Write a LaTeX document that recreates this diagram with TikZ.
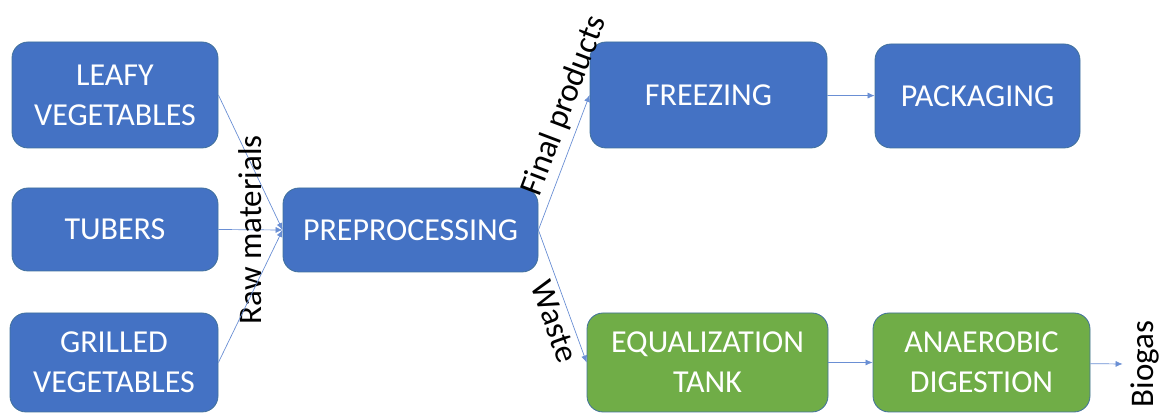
\documentclass[tikz,border=0pt]{standalone}
\usepackage{fontspec}
\setmainfont{Carlito}
\usetikzlibrary{positioning, shapes, arrows.meta}

\definecolor{boxblue}{HTML}{4472C4}
\definecolor{boxgreen}{HTML}{70AD47}
\definecolor{boxline}{HTML}{41719C}
\definecolor{flowline}{HTML}{6A8FD4}

\tikzset{
	procbox/.style={draw=boxline, line width=0.8pt, rounded corners=16pt, text=white,
		align=center, inner sep=0pt, font=\fontsize{32}{40}\selectfont},
	bluebox/.style={procbox, fill=boxblue},
	greenbox/.style={procbox, fill=boxgreen},
	flow/.style={draw=flowline, line width=0.7pt, -{Latex[length=7pt,width=6pt]}},
	flowlabel/.style={text=black, inner sep=5pt, font=\fontsize{33}{40}\selectfont}
}

\begin{document}
\begin{tikzpicture}[x=1pt, y=1pt]
	\useasboundingbox (0, 0) rectangle (1161, 414);
	% Raw materials:
	\node[bluebox, minimum width=206pt, minimum height=106pt] (leafy) at (115, 319){LEAFY\\VEGETABLES};
	\node[bluebox, minimum width=206pt, minimum height=83pt] (tubers) at (115, 184.5){TUBERS};
	\node[bluebox, minimum width=208pt, minimum height=99pt] (grilled) at (114, 51.5){GRILLED\\VEGETABLES};
	\node[bluebox, minimum width=255pt, minimum height=84pt] (prep) at (410.5, 184){PREPROCESSING};
	% Final products line:
	\node[bluebox, minimum width=237pt, minimum height=106pt] (freeze) at (708.5, 319){FREEZING};
	\node[bluebox, minimum width=205pt, minimum height=104pt] (pack) at (977.5, 318){PACKAGING};
	% Waste line:
	\node[greenbox, minimum width=241pt, minimum height=99pt] (equal) at (707.5, 51.5){EQUALIZATION\\TANK};
	\node[greenbox, minimum width=217pt, minimum height=99pt] (anaer) at (981.5, 51.5){ANAEROBIC\\DIGESTION};
	\node[flowlabel, rotate=90, inner sep=0pt] (biogas) at (1145, 50){Biogas};
	% Connectors:
	\draw[flow] (leafy.east) -- (prep.west);
	\draw[flow] (tubers.east) -- node[flowlabel, rotate=90, inner sep=0pt]{Raw materials} (prep.west);
	\draw[flow] (grilled.east) -- (prep.west);
	\draw[flow] (prep.east) -- node[flowlabel, pos=0.87, sloped, above]{Final products} (freeze.west);
	\draw[flow] (prep.east) -- node[flowlabel, pos=0.65, sloped, below]{Waste} (equal.west);
	\draw[flow] (freeze) -- (pack);
	\draw[flow] (equal) -- (anaer);
	\draw[flow] (anaer) -- ([xshift=-8pt]biogas.north);
\end{tikzpicture}
\end{document}
